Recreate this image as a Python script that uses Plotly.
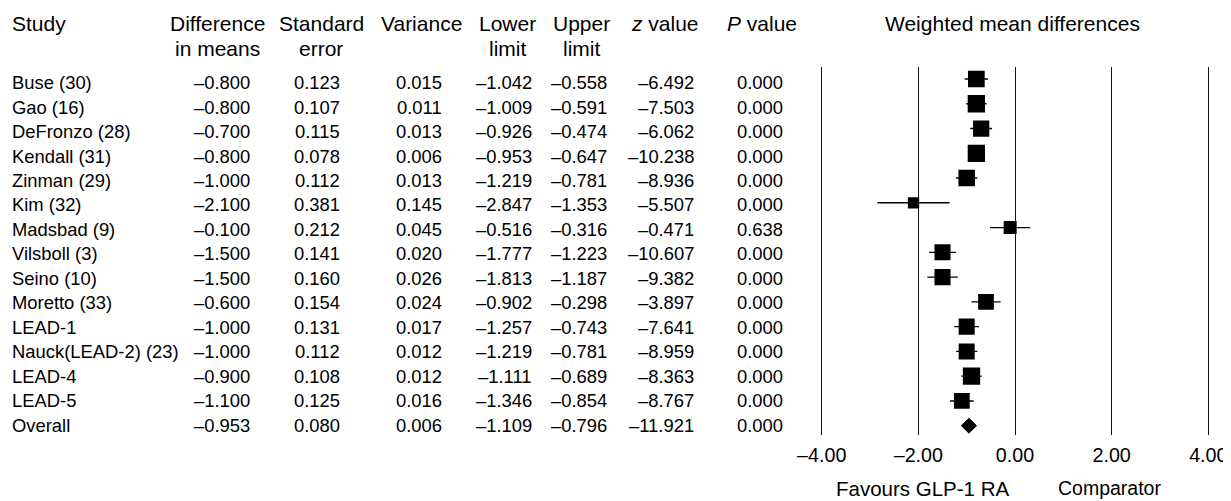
import plotly.graph_objects as go

# ---------------- data ----------------
studies = ["Buse (30)", "Gao (16)", "DeFronzo (28)", "Kendall (31)", "Zinman (29)",
           "Kim (32)", "Madsbad (9)", "Vilsboll (3)", "Seino (10)", "Moretto (33)",
           "LEAD-1", "Nauck(LEAD-2) (23)", "LEAD-4", "LEAD-5", "Overall"]
diff_means = [-0.800, -0.800, -0.700, -0.800, -1.000, -2.100, -0.100, -1.500, -1.500,
              -0.600, -1.000, -1.000, -0.900, -1.100, -0.953]
std_error = [0.123, 0.107, 0.115, 0.078, 0.112, 0.381, 0.212, 0.141, 0.160,
             0.154, 0.131, 0.112, 0.108, 0.125, 0.080]
variance = [0.015, 0.011, 0.013, 0.006, 0.013, 0.145, 0.045, 0.020, 0.026,
            0.024, 0.017, 0.012, 0.012, 0.016, 0.006]
lower_limit = [-1.042, -1.009, -0.926, -0.953, -1.219, -2.847, -0.516, -1.777, -1.813,
               -0.902, -1.257, -1.219, -1.111, -1.346, -1.109]
upper_limit = [-0.558, -0.591, -0.474, -0.647, -0.781, -1.353, -0.316, -1.223, -1.187,
               -0.298, -0.743, -0.781, -0.689, -0.854, -0.796]
z_value = [-6.492, -7.503, -6.062, -10.238, -8.936, -5.507, -0.471, -10.607, -9.382,
           -3.897, -7.641, -8.959, -8.363, -8.767, -11.921]
p_value = [0.000, 0.000, 0.000, 0.000, 0.000, 0.000, 0.638, 0.000, 0.000,
           0.000, 0.000, 0.000, 0.000, 0.000, 0.000]
# relative study weights (%)
rel_weight = [7.9, 8.5, 7.5, 8.5, 7.7, 3.6, 4.8, 7.3, 7.3, 7.0, 7.3, 7.3, 8.5, 7.0]

tick_values = [-4, -2, 0, 2, 4]
tick_labels = ["\u20134.00", "\u20132.00", "0.00", "2.00", "4.00"]

headers = [("Difference", "in means"), ("Standard", "error"), ("Variance", ""),
           ("Lower", "limit"), ("Upper", "limit"), ("<i>z</i> value", ""),
           ("<i>P</i> value", "")]
columns = [diff_means, std_error, variance, lower_limit, upper_limit, z_value, p_value]

# ---------------- layout constants (screen pixels) ----------------
W, H = 1231, 501
OX, OY = 8, 8          # page body margin in front of the figure
FW, FH = W - OX, H - OY
FONT = "Liberation Sans, Arial, Helvetica, sans-serif"
col_right_px = [250, 340, 442, 532, 607, 694, 783]
head_center_px = [217.5, 321, 421.5, 507, 581, 665, 762]
BODY = 18.4
HEAD = 21


def px(x):
    return (x - OX) / FW


def py(y):
    return 1 - (y - OY) / FH


def fmt(v):
    return f"{v:.3f}".replace("-", "\u2013")


n = len(studies)
rows = list(range(n))

fig = go.Figure()

# study boxes with 95% CI whiskers
n_st = n - 1
fig.add_trace(go.Scatter(
    x=diff_means[:n_st], y=rows[:n_st], mode="markers",
    marker=dict(symbol="square", color="#000000", opacity=1,
                size=[5.94 * w ** 0.5 for w in rel_weight],
                line=dict(width=0)),
    error_x=dict(type="data", array=[1.96 * s for s in std_error[:n_st]],
                 color="#000000", thickness=1.4, width=0),
    showlegend=False, hoverinfo="x+y"))

# overall diamond
r = rows[-1]
h = 0.3
fig.add_trace(go.Scatter(
    x=[lower_limit[-1], diff_means[-1], upper_limit[-1], diff_means[-1], lower_limit[-1]],
    y=[r, r - h, r, r + h, r], mode="lines", fill="toself",
    fillcolor="#000000", line=dict(color="#000000", width=1),
    showlegend=False, hoverinfo="skip"))

annotations = []


def add_text(text, x, y, xanchor="center", yref="paper", size=BODY, yshift=0):
    annotations.append(dict(text=text, x=x, y=y, xref="paper", yref=yref,
                            xanchor=xanchor, yanchor="middle", showarrow=False,
                            borderpad=0, borderwidth=0, yshift=yshift,
                            font=dict(family=FONT, size=size, color="black")))


# header
add_text("Study", px(12), py(23), xanchor="left", size=HEAD)
for (l1, l2), cx in zip(headers, head_center_px):
    add_text(l1, px(cx), py(23), size=HEAD)
    if l2:
        add_text(l2, px(cx), py(48), size=HEAD)
add_text("Weighted mean differences", px(1012), py(23), size=HEAD)

# table body (table rows are spaced slightly tighter than the plot rows)
for i in rows:
    ys = -3.7 + 0.31 * i
    add_text(studies[i], px(12), i, xanchor="left", yref="y", yshift=ys)
    for col, rx in zip(columns, col_right_px):
        add_text(fmt(col[i]), px(rx), i, xanchor="right", yref="y", yshift=ys)

# favours labels
add_text("Favours GLP-1 RA", px(923), py(488), size=20.5)
add_text("Comparator", px(1109), py(488), size=19.5)

# axes geometry
x_lo, x_hi = -4.05, 4.05
ppu = (1208.3 - 821.7) / 8
dom_l = 821.7 - (x_lo + 4) * -ppu
dom_r = 1208.3 + (x_hi - 4) * ppu

row0_px, rowN_px = 79.0, 425.7
sp = (rowN_px - row0_px) / (n - 1)
top_px, bot_px = 67.3, 435.0
y_top = -(row0_px - top_px) / sp
y_bot = (n - 1) + (bot_px - rowN_px) / sp

fig.update_layout(
    width=FW, height=FH,
    margin=dict(l=0, r=0, t=0, b=0, pad=0, autoexpand=False),
    paper_bgcolor="white", plot_bgcolor="white",
    font=dict(family=FONT, color="black"),
    annotations=annotations,
    showlegend=False,
    xaxis=dict(domain=[px(dom_l), px(dom_r)], range=[x_lo, x_hi],
               tickvals=tick_values, ticktext=tick_labels,
               showgrid=True, gridcolor="#111111", gridwidth=1.4,
               zeroline=False, showline=False, automargin=False,
               ticks="outside", ticklen=2, tickcolor="rgba(0,0,0,0)",
               tickfont=dict(family=FONT, size=19.7, color="black")),
    yaxis=dict(domain=[py(bot_px), py(top_px)], range=[y_bot, y_top],
               visible=False, showgrid=False, zeroline=False, automargin=False),
)

fig.write_html("out.html")
